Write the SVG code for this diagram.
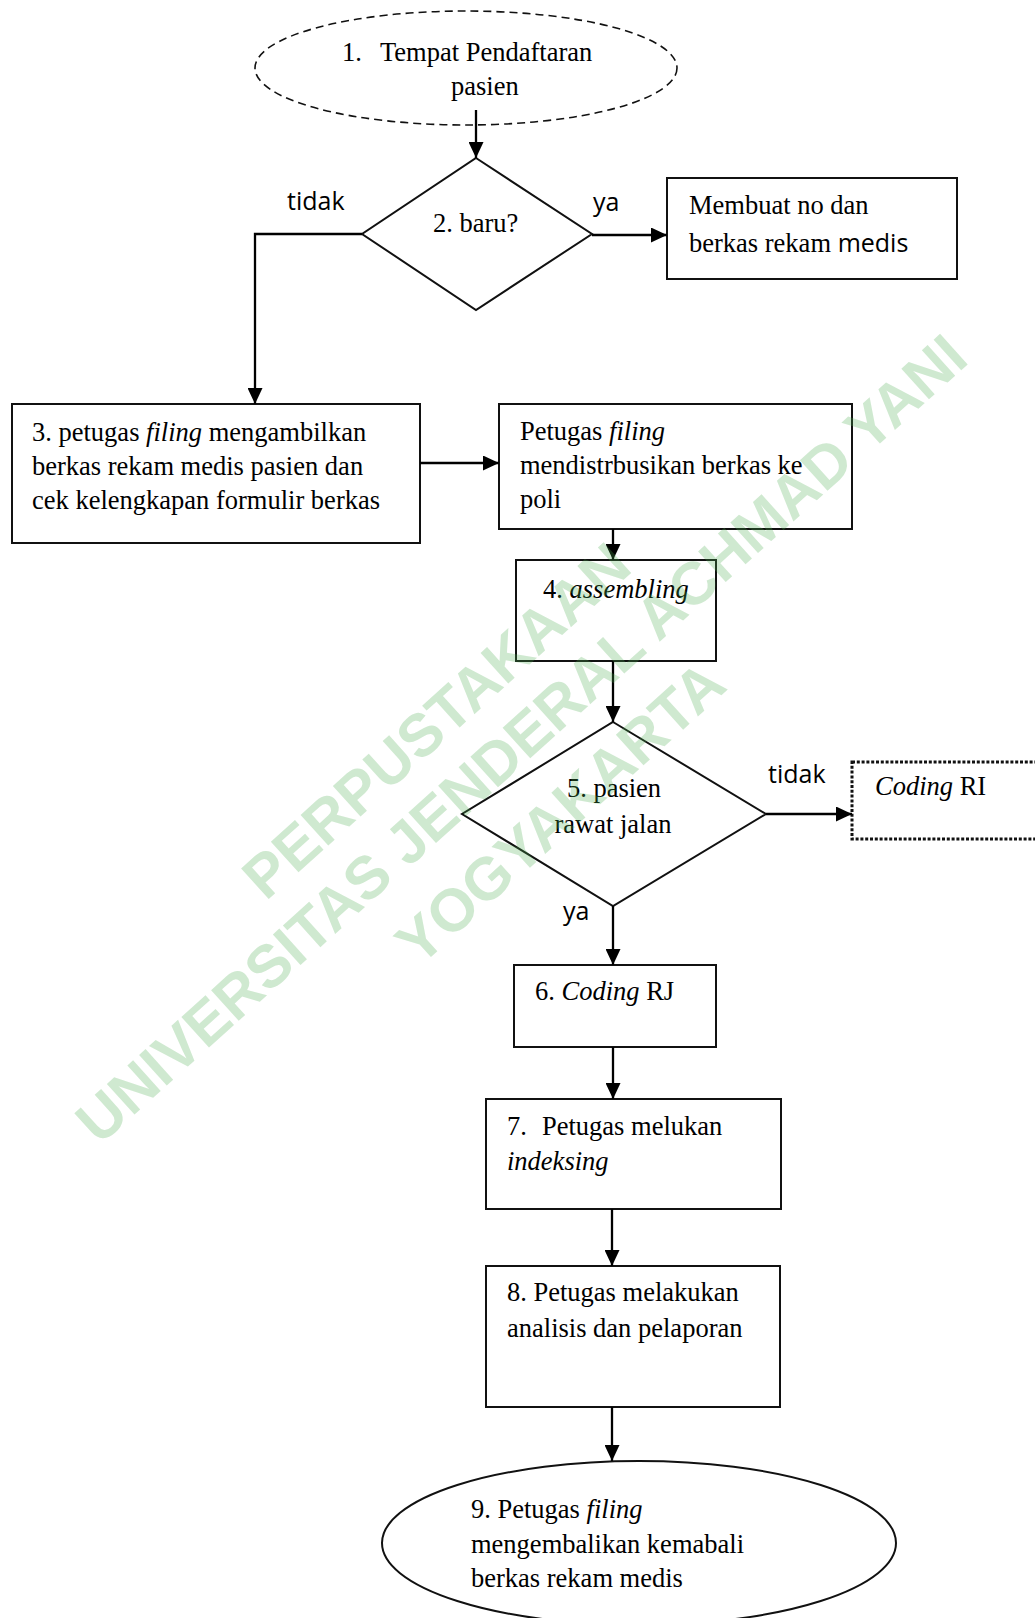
<svg xmlns="http://www.w3.org/2000/svg" width="1035" height="1618" viewBox="0 0 1035 1618">
<style>
.box{fill:#fff;stroke:#111;stroke-width:2}
.t{font-family:"Liberation Serif","Times New Roman",serif;font-size:26.5px;fill:#000}
.s{font-family:"Open Sans","DejaVu Sans",sans-serif;font-size:25px;fill:#000}
.i{font-style:italic}
.c{fill:none;stroke:#000;stroke-width:2.3;marker-end:url(#ah)}
.wm{font-family:"Liberation Sans",Arial,sans-serif;font-weight:bold;font-size:60px;fill:#4caf50;fill-opacity:0.27}
</style>
<defs>
<marker id="ah" markerUnits="userSpaceOnUse" markerWidth="16" markerHeight="15" refX="16" refY="7.5" orient="auto" viewBox="0 0 16 15">
<path d="M0,0 L16,7.5 L0,15 z" fill="#000"/>
</marker>
</defs>
<rect width="1035" height="1618" fill="#fff"/>

<g id="node1">
<ellipse cx="466" cy="68" rx="211" ry="57" fill="#fff" stroke="#111" stroke-width="1.6" stroke-dasharray="8 5"/>
<text class="t" x="342" y="61">1.</text>
<text class="t" x="380" y="61">Tempat Pendaftaran</text>
<text class="t" x="451" y="95">pasien</text>
</g>

<g id="node2">
<polygon class="box" points="476,158 592,234 476,310 362,234"/>
<text class="t" x="433" y="232">2. baru?</text>
</g>

<g id="nodeNew">
<rect class="box" x="667" y="178" width="290" height="101"/>
<text class="t" x="689" y="214">Membuat no dan</text>
<text class="t" x="689" y="252">berkas rekam <tspan class="s">medis</tspan></text>
</g>

<g id="node3">
<rect class="box" x="12" y="404" width="408" height="139"/>
<text class="t" x="32" y="441">3. petugas <tspan class="i">filing</tspan> mengambilkan</text>
<text class="t" x="32" y="475">berkas rekam medis pasien dan</text>
<text class="t" x="32" y="509">cek kelengkapan formulir berkas</text>
</g>

<g id="nodeDistribusi">
<rect class="box" x="499" y="404" width="353" height="125"/>
<text class="t" x="520" y="440">Petugas <tspan class="i">filing</tspan></text>
<text class="t" x="520" y="474">mendistrbusikan berkas ke</text>
<text class="t" x="520" y="508">poli</text>
</g>

<g id="node4">
<rect class="box" x="516" y="560" width="200" height="101"/>
<text class="t" x="543" y="598">4. <tspan class="i">assembling</tspan></text>
</g>

<g id="node5">
<polygon class="box" points="613,722 766,814 613,906 462,814"/>
<text class="t" x="614" y="797" text-anchor="middle">5. pasien</text>
<text class="t" x="613" y="833" text-anchor="middle">rawat jalan</text>
</g>

<g id="nodeRI">
<rect x="852" y="762" width="200" height="77" fill="#fff" stroke="#111" stroke-width="3" stroke-dasharray="3 1.8"/>
<text class="t" x="875" y="795"><tspan class="i">Coding</tspan> RI</text>
</g>

<g id="node6">
<rect class="box" x="514" y="965" width="202" height="82"/>
<text class="t" x="535" y="1000">6. <tspan class="i">Coding</tspan> RJ</text>
</g>

<g id="node7">
<rect class="box" x="486" y="1099" width="295" height="110"/>
<text class="t" x="507" y="1135">7.</text>
<text class="t" x="542" y="1135">Petugas melukan</text>
<text class="t i" x="507" y="1170">indeksing</text>
</g>

<g id="node8">
<rect class="box" x="486" y="1266" width="294" height="141"/>
<text class="t" x="507" y="1301">8. Petugas melakukan</text>
<text class="t" x="507" y="1337">analisis dan pelaporan</text>
</g>

<g id="node9">
<ellipse cx="639" cy="1543" rx="257" ry="82" fill="#fff" stroke="#111" stroke-width="2"/>
<text class="t" x="471" y="1518">9. Petugas <tspan class="i">filing</tspan></text>
<text class="t" x="471" y="1553">mengembalikan kemabali</text>
<text class="t" x="471" y="1587">berkas rekam medis</text>
</g>

<g id="connectors">
<path class="c" d="M476,110 V158"/>
<path class="c" d="M592,235 H667"/>
<path class="c" d="M362,234 H255 V404"/>
<path class="c" d="M420,463 H499"/>
<path class="c" d="M613,529 V560"/>
<path class="c" d="M613,661 V722"/>
<path class="c" d="M766,814 H852"/>
<path class="c" d="M613,906 V965"/>
<path class="c" d="M613,1047 V1099"/>
<path class="c" d="M612,1209 V1266"/>
<path class="c" d="M612,1407 V1461"/>
<text class="s" x="287" y="210">tidak</text>
<text class="s" x="593" y="211">ya</text>
<text class="s" x="768" y="783">tidak</text>
<text class="s" x="563" y="920">ya</text>
</g>

<g id="watermark">
<text class="wm" x="450" y="736" text-anchor="middle" transform="rotate(-42 450 736)">PERPUSTAKAAN</text>
<text class="wm" x="535" y="754" text-anchor="middle" transform="rotate(-42 535 754)">UNIVERSITAS JENDERAL ACHMAD YANI</text>
<text class="wm" x="574" y="828" text-anchor="middle" transform="rotate(-42 574 828)">YOGYAKARTA</text>
</g>
</svg>
